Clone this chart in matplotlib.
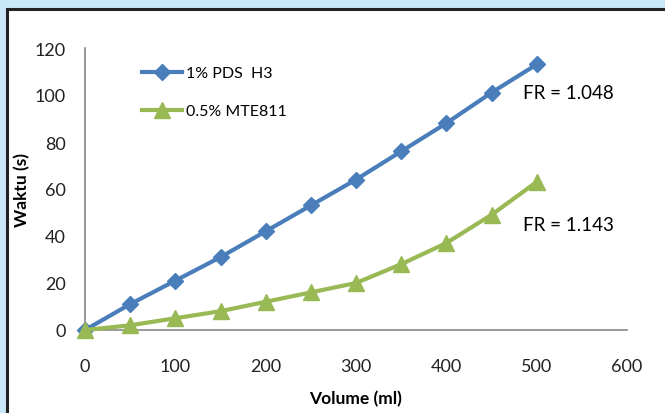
import matplotlib.pyplot as plt
from matplotlib.patches import Rectangle

# volume (ml) vs waktu (s)
volume = [0, 50, 100, 150, 200, 250, 300, 350, 400, 450, 500]
pds_h3 = [0, 11, 21, 31, 42, 53, 64, 76, 88, 101, 113]
mte811 = [0, 2, 5, 8, 12, 16, 20, 28, 37, 49, 63]

plt.rcParams['font.family'] = ['Lato', 'DejaVu Sans']

fig = plt.figure(figsize=(6.65, 4.14), dpi=100)
fig.patch.set_facecolor('#c9e7f8')
# white panel with dark border, behind the axes
panel = Rectangle((7/665, -0.05), 1.0, (414-10)/414 + 0.05,
                  transform=fig.transFigure, facecolor='white',
                  edgecolor='#222222', linewidth=2.2, zorder=-10)
fig.add_artist(panel)

ax = fig.add_axes([85/665, 83/414, 542/665, 282/414])
ax.set_facecolor('none')

ax.plot(volume, pds_h3, color='#4a7ebb', linewidth=3, marker='D', markersize=8,
        label='1% PDS  H3', clip_on=False, zorder=3)
ax.plot(volume, mte811, color='#98b954', linewidth=3, marker='^', markersize=11,
        label='0.5% MTE811', clip_on=False, zorder=3)

ax.set_xlim(0, 600)
ax.set_ylim(0, 120)
ax.set_xticks(range(0, 601, 100))
ax.set_yticks(range(0, 121, 20))
ax.tick_params(length=0, labelsize=13, colors='#222222')
ax.tick_params(axis='x', pad=20)
ax.tick_params(axis='y', pad=14)

for s in ['top', 'right']:
    ax.spines[s].set_visible(False)
ax.spines['left'].set_color('#888888')
ax.spines['bottom'].set_color('#888888')
ax.spines['left'].set_linewidth(1.2)
ax.spines['bottom'].set_linewidth(1.2)

ax.set_xlabel('Volume (ml)', fontsize=12.5, fontweight='bold')
ax.set_ylabel('Waktu (s)', fontsize=12.5, fontweight='bold')
ax.xaxis.set_label_coords(0.5, -(391 - 331) / 282)
ax.yaxis.set_label_coords(-(85 - 30) / 542, 0.5)

ax.legend(loc='upper left', bbox_to_anchor=((142 - 85) / 542, (331 - 67) / 282),
          frameon=False, fontsize=11.5, handlelength=2.5, labelspacing=1.5,
          handletextpad=0.25, borderpad=0, borderaxespad=0)

ax.text(485, 101, 'FR = 1.048', fontsize=13.5, va='center')
ax.text(485, 45, 'FR = 1.143', fontsize=13.5, va='center')

fig.savefig('out.png', dpi=100, facecolor=fig.get_facecolor())
